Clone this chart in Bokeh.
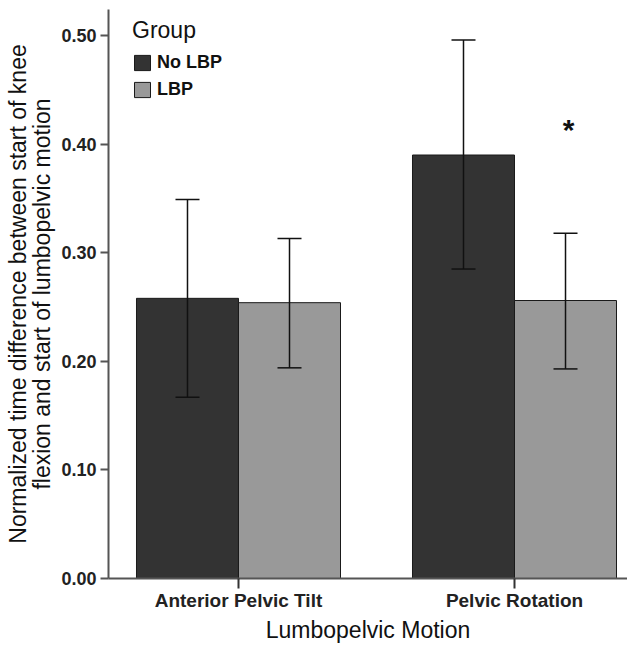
import numpy as np
from bokeh.plotting import figure
from bokeh.models import (ColumnDataSource, FixedTicker, Whisker, TeeHead, Legend,
                          LegendItem, NumeralTickFormatter, Range1d)
from bokeh.core.properties import value
from bokeh.embed import file_html
from bokeh.resources import INLINE

# ---- data ----
categories = ["Anterior Pelvic Tilt", "Pelvic Rotation"]
groups = ["No LBP", "LBP"]
mean_no_lbp = [0.258, 0.390]
mean_lbp = [0.254, 0.256]
upper_no_lbp = [0.349, 0.496]
lower_no_lbp = [0.167, 0.285]
upper_lbp = [0.313, 0.318]
lower_lbp = [0.194, 0.193]
y_ticks = [0.0, 0.1, 0.2, 0.3, 0.4, 0.5]
star_category = "Pelvic Rotation"
star_value = 0.42

FONT = "Liberation Sans"
idx = np.arange(len(categories))
off = 0.1848
bw = 0.3696

src_no = ColumnDataSource(dict(x=idx - off, top=mean_no_lbp, upper=upper_no_lbp, lower=lower_no_lbp))
src_lbp = ColumnDataSource(dict(x=idx + off, top=mean_lbp, upper=upper_lbp, lower=lower_lbp))

p = figure(width=627, height=645, output_backend="svg", toolbar_location=None,
           x_range=Range1d(-0.471, 1.4094), y_range=Range1d(0, 0.524),
           min_border_left=108, min_border_right=0, min_border_top=9, min_border_bottom=67)
p.outline_line_color = None
p.xgrid.grid_line_color = None
p.ygrid.grid_line_color = None
p.background_fill_color = "white"
p.border_fill_color = "white"

r_no = p.vbar(x="x", top="top", width=bw, source=src_no, fill_color="#333333",
              line_color="#1a1a1a", line_width=1)
r_lbp = p.vbar(x="x", top="top", width=bw, source=src_lbp, fill_color="#999999",
               line_color="#1a1a1a", line_width=1)

for src in (src_no, src_lbp):
    w = Whisker(base="x", upper="upper", lower="lower", source=src, level="overlay",
                line_color="#111111", line_width=1.5,
                upper_head=TeeHead(size=24, line_color="#111111", line_width=1.5),
                lower_head=TeeHead(size=24, line_color="#111111", line_width=1.5))
    p.add_layout(w)

# significance star
star_x = [categories.index(star_category) + off]
p.text(x=star_x, y=[star_value], text=["*"], text_font=value(FONT), text_font_size="30px",
       text_font_style="bold", text_align="center", text_baseline="middle",
       text_color="#111111", y_offset=7, x_offset=3)

# axes
xa = p.xaxis[0]
xa.ticker = FixedTicker(ticks=list(idx))
xa.major_label_overrides = {int(i): c for i, c in zip(idx, categories)}
xa.minor_tick_line_color = None
xa.major_tick_out = 10
xa.major_tick_in = 0
xa.major_tick_line_color = "#333333"
xa.major_tick_line_width = 2
xa.axis_line_color = "#555555"
xa.axis_line_width = 2
xa.major_label_text_font = FONT
xa.major_label_text_font_style = "bold"
xa.major_label_text_font_size = "19px"
xa.major_label_text_color = "#222222"
xa.major_label_standoff = 1
xa.axis_label = "Lumbopelvic Motion"
xa.axis_label_text_font = FONT
xa.axis_label_text_font_style = "normal"
xa.axis_label_text_font_size = "23px"
xa.axis_label_text_color = "#111111"
xa.axis_label_standoff = 3

ya = p.yaxis[0]
ya.ticker = FixedTicker(ticks=y_ticks)
ya.formatter = NumeralTickFormatter(format="0.00")
ya.minor_tick_line_color = None
ya.major_tick_out = 8
ya.major_tick_in = 0
ya.major_tick_line_color = "#555555"
ya.major_tick_line_width = 2
ya.axis_line_color = "#555555"
ya.axis_line_width = 2
ya.major_label_text_font = FONT
ya.major_label_text_font_style = "bold"
ya.major_label_text_font_size = "18px"
ya.major_label_text_color = "#222222"
ya.major_label_standoff = 4
ya.axis_label = "Normalized time difference between start of knee\nflexion and start of lumbopelvic motion"
ya.axis_label_text_font = FONT
ya.axis_label_text_font_style = "normal"
ya.axis_label_text_font_size = "23px"
ya.axis_label_text_color = "#111111"
ya.axis_label_text_line_height = 0.95
ya.axis_label_standoff = 3

legend = Legend(items=[LegendItem(label=groups[0], renderers=[r_no]),
                       LegendItem(label=groups[1], renderers=[r_lbp])],
                location=(24, 478), title="Group",
                title_text_font=FONT, title_text_font_size="23px", title_text_font_style="normal",
                title_text_color="#111111", title_standoff=8,
                label_text_font=FONT, label_text_font_size="18px", label_text_font_style="bold",
                label_text_color="#111111", label_standoff=5,
                glyph_width=20, glyph_height=19, label_height=19, spacing=6,
                padding=0, margin=0, border_line_alpha=0, background_fill_alpha=0)
p.add_layout(legend)

open("out.html", "w").write(file_html(p, INLINE))
